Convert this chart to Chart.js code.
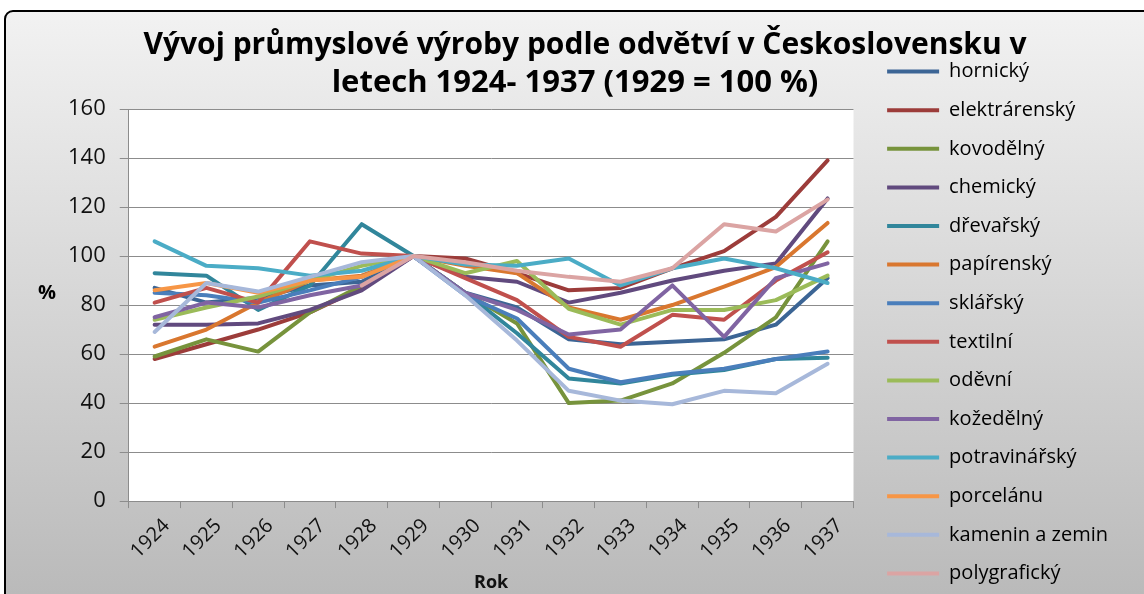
<!DOCTYPE html>
<html>
<head>
<meta charset="utf-8">
<title>Vývoj průmyslové výroby podle odvětví</title>
<script src="https://cdn.jsdelivr.net/npm/chart.js@4.4.0/dist/chart.umd.min.js"></script>
<style>
  html, body { margin: 0; padding: 0; background: #fff; }
  #wrap { width: 1144px; height: 594px; }
</style>
</head>
<body>
<div id="wrap"><canvas id="chartIndustry" width="1144" height="594"></canvas></div>
<script>
// roky (osa x)
const years = ['1924', '1925', '1926', '1927', '1928', '1929', '1930',
               '1931', '1932', '1933', '1934', '1935', '1936', '1937'];

// index 1929 = 100 %
const hornicky       = [87, 81, 83, 88, 89.5, 100, 85, 79, 66, 64, 65, 66, 72, 91];
const elektrarensky  = [58, 64, 70, 77, 87, 100, 99, 93, 86, 87, 95, 102, 116, 139];
const kovodelny      = [59, 66, 61, 77, 88, 100, 85, 72.5, 40, 41, 48, 60.5, 75, 106];
const chemicky       = [72, 72, 72.5, 78, 86, 100, 91.5, 89.5, 81, 85, 90, 94, 97, 123.5];
const drevarsky      = [93, 92, 78, 88, 113, 100, 85, 68.5, 50, 48, 51.5, 53.5, 58, 58.5];
const papirensky     = [63, 70, 81, 90, 92, 100, 96, 93, 79, 74, 80, 87.5, 95.5, 113.5];
const sklarsky       = [85, 84, 81, 86, 91.5, 100, 84, 74.5, 54, 48.5, 52, 54, 58, 61];
const textilni       = [81, 87, 81, 106, 101, 100, 91, 82, 67, 63, 76, 74, 90, 101.5];
const odevni         = [74, 79, 83.5, 90, 96, 100, 93, 98, 78.5, 72, 78, 78, 82, 92];
const kozedelny      = [75, 81, 79, 84, 88, 100, 85, 78, 68, 70, 88, 67, 91, 97];
const potravinarsky  = [106, 96, 95, 92, 94, 100, 96.5, 96, 99, 88, 95, 99, 95, 89];
const porcelanu      = [86, 89, 85, 90, 91.5, 100, null, null, null, null, null, null, null, null];
const kameninAZemin  = [69, 89, 85.5, 91.5, 97.5, 100, 84, 65.5, 45, 41, 39.5, 45, 44, 56];
const polygraficky   = [null, null, null, null, 88, 100, 97.5, 94, 91.5, 89.5, 95, 113, 110, 123];

const seriesNames = ['hornický', 'elektrárenský', 'kovodělný', 'chemický', 'dřevařský',
                     'papírenský', 'sklářský', 'textilní', 'oděvní', 'kožedělný',
                     'potravinářský', 'porcelánu', 'kamenin a zemin', 'polygrafický'];
const seriesData = [hornicky, elektrarensky, kovodelny, chemicky, drevarsky,
                    papirensky, sklarsky, textilni, odevni, kozedelny,
                    potravinarsky, porcelanu, kameninAZemin, polygraficky];

const titleLines = ['Vývoj průmyslové výroby podle odvětví v Československu v',
                    'letech 1924- 1937 (1929 = 100 %)'];

const seriesColors = ['#3c6595', '#9c3c3a', '#77933c', '#614a7e', '#31869b',
                      '#d9772f', '#4a7ebb', '#c0504d', '#9bbb59', '#8064a2',
                      '#4bacc6', '#f79646', '#a7b8da', '#dba4a3'];

Chart.defaults.font.family = '"Open Sans", sans-serif';

// gray frame + white plot area
const backgroundPlugin = {
    id: 'background',
    beforeDraw: (chart) => {
        const {ctx, chartArea} = chart;
        ctx.save();
        ctx.fillStyle = '#fff';
        ctx.fillRect(0, 0, chart.width, chart.height);
        const grad = ctx.createLinearGradient(0, 11, 0, chart.height);
        grad.addColorStop(0, '#f2f2f2');
        grad.addColorStop(1, '#bababa');
        ctx.beginPath();
        ctx.roundRect(5, 11, chart.width + 10, chart.height + 10, 8);
        ctx.fillStyle = grad;
        ctx.fill();
        ctx.lineWidth = 2;
        ctx.strokeStyle = '#000';
        ctx.stroke();
        ctx.fillStyle = '#fff';
        ctx.fillRect(chartArea.left, chartArea.top,
                     chartArea.right - chartArea.left, chartArea.bottom - chartArea.top);
        ctx.restore();
    }
};

// title spans over the legend column, so draw it by hand
const titlePlugin = {
    id: 'titleText',
    afterDraw: (chart) => {
        const ctx = chart.ctx;
        ctx.save();
        ctx.fillStyle = '#000';
        ctx.textAlign = 'center';
        ctx.textBaseline = 'middle';
        ctx.font = 'bold 30px "Open Sans"';
        ctx.fillText(titleLines[0], 585, 45);
        ctx.font = 'bold 31px "Open Sans"';
        ctx.fillText(titleLines[1], 575, 83);
        ctx.font = 'bold 20px "Open Sans"';
        ctx.fillText('%', 47, 293);
        ctx.restore();
    }
};

const datasets = seriesData.map((values, i) => ({
    label: seriesNames[i],
    data: values,
    borderColor: seriesColors[i],
    backgroundColor: seriesColors[i],
    order: -i   // later series on top, like the original
}));

const config = {
    type: 'line',
    data: { labels: years, datasets },
    options: {
        responsive: false,
        animation: false,
        devicePixelRatio: 1,
        layout: { padding: { left: 54, right: 26, top: 0, bottom: -8 } },
        elements: {
            line: { borderWidth: 4, tension: 0, borderCapStyle: 'round', borderJoinStyle: 'round' },
            point: { radius: 0, hoverRadius: 0 }
        },
        plugins: {
            // only reserves the space, text is drawn by titlePlugin
            title: {
                display: true,
                fullSize: false,
                text: ' ',
                font: { size: 10, lineHeight: 1 },
                padding: { top: 99, bottom: 0 }
            },
            legend: {
                position: 'right',
                align: 'end',
                maxWidth: 320,
                labels: {
                    boxWidth: 52,
                    boxHeight: 4,
                    padding: 18.6,
                    color: '#000',
                    font: { size: 20 },
                    sort: (a, b) => a.datasetIndex - b.datasetIndex,
                    generateLabels: (chart) => {
                        const items = Chart.defaults.plugins.legend.labels.generateLabels(chart);
                        items.forEach(it => { it.lineWidth = 0; });
                        return items;
                    }
                }
            },
            tooltip: { enabled: false }
        },
        scales: {
            x: {
                offset: true,
                grid: { offset: true, drawOnChartArea: false, tickLength: 7, color: '#8c8c8c' },
                border: { color: '#8c8c8c' },
                ticks: { minRotation: 45, maxRotation: 45, autoSkip: false, padding: 6,
                         labelOffset: 12, color: '#111', font: { size: 20 } },
                title: { display: true, text: 'Rok', color: '#111',
                         font: { size: 18, weight: 'bold' }, padding: { top: 3, bottom: 8 } }
            },
            y: {
                min: 0,
                max: 160,
                ticks: { stepSize: 20, padding: 14, color: '#111', font: { size: 22 } },
                grid: { color: '#8c8c8c', tickLength: 9 },
                border: { color: '#8c8c8c' }
            },
            // empty axis, keeps a gap between plot and legend
            gap: {
                type: 'linear',
                position: 'right',
                grid: { display: false },
                border: { display: false },
                ticks: { display: false },
                afterFit: (axis) => { axis.width = 15; }
            }
        }
    },
    plugins: [backgroundPlugin, titlePlugin]
};

const ctx = document.getElementById('chartIndustry');
const industryChart = new Chart(ctx, config);
</script>
</body>
</html>
